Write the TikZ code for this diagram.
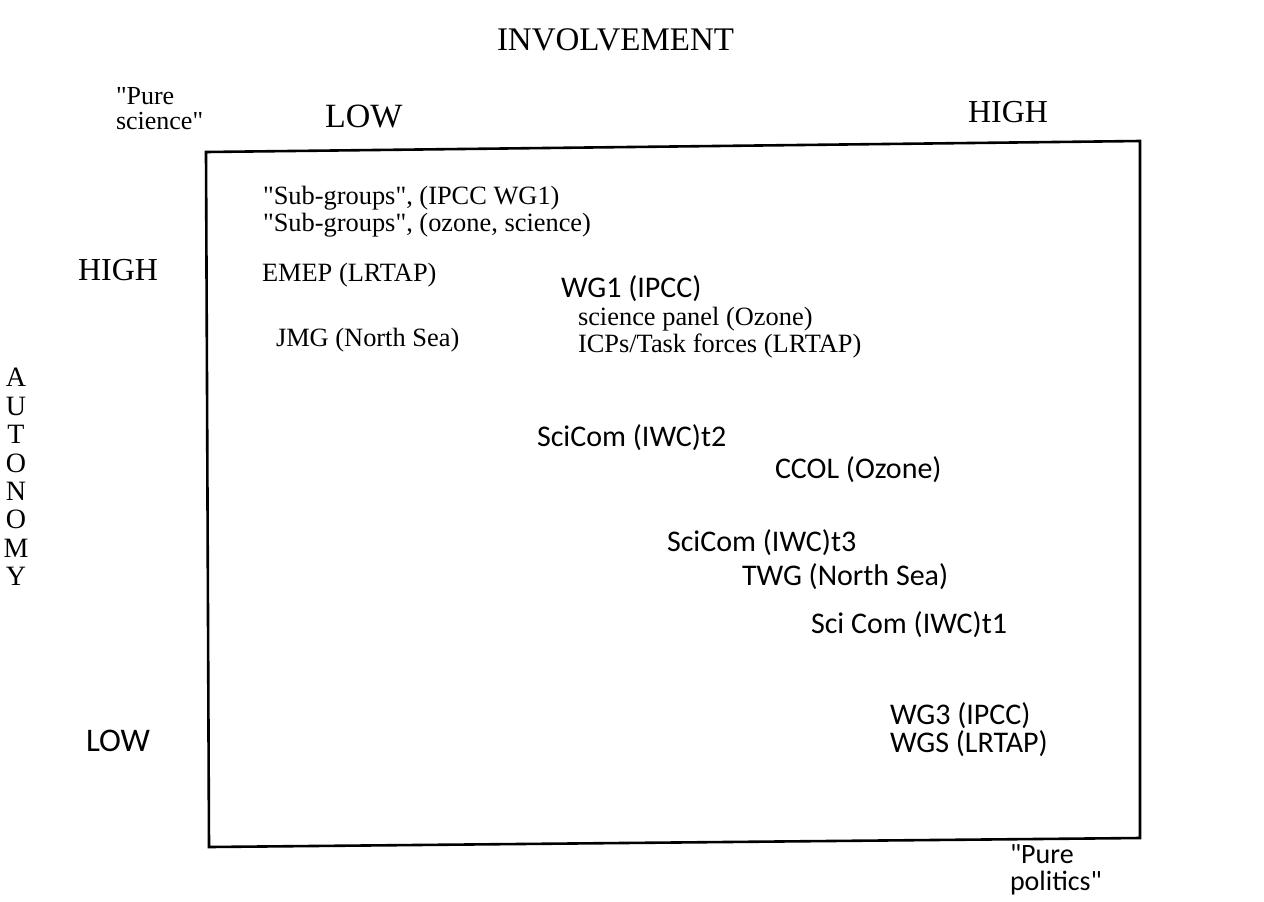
\documentclass[tikz,border=0pt]{standalone}
\usepackage{fontspec}
\setmainfont{Liberation Serif}
\newfontfamily\serf{Liberation Serif}
\newfontfamily\optfont{Carlito}
\begin{document}
\begin{tikzpicture}[x=0.5pt,y=-0.5pt,
  lbl/.style={anchor=base west, inner sep=0pt, outer sep=0pt},
  serl/.style={lbl, font=\serf\fontsize{13.2}{15}\selectfont},
  optl/.style={lbl, font=\optfont\fontsize{15}{17}\selectfont},
  axl/.style={lbl, font=\fontsize{16}{18}\selectfont}]
\useasboundingbox (0,0) rectangle (1264,901);
% frame
\coordinate (tl) at (206,152);
\coordinate (tr) at (1140,141);
\coordinate (br) at (1140,838);
\coordinate (bl) at (209,847);
\draw[line width=1.3pt, line join=miter] (tl) -- (tr) -- (br) -- (bl) -- cycle;
% axis titles
\node[axl, font=\fontsize{16.5}{18}\selectfont] (inv) at (497,50) {INVOLVEMENT};
\node[axl, font=\fontsize{17}{18}\selectfont] (lowt) at (325,127) {LOW};
\node[axl] (hight) at (968,122) {HIGH};
\node[axl] (highl) at (78,280) {HIGH};
\node[lbl, font=\optfont\fontsize{16.5}{18}\selectfont] (lowl) at (86,751) {LOW};
\node[lbl, font=\serf\fontsize{13}{12.5}\selectfont, align=left] (psci) at (116,129) {"Pure\\science"};
\node[lbl, font=\optfont\fontsize{14}{13.5}\selectfont, align=left] (ppol) at (1010,890) {"Pure\\politics"};
\node[anchor=north, inner sep=0pt, font=\fontsize{14}{14.2}\selectfont, align=center] (aut) at (16,368) {A\\U\\T\\O\\N\\O\\M\\Y};
% entries
\node[serl] (sg1) at (263,204) {"Sub-groups", (IPCC WG1)};
\node[serl] (sg2) at (263,231) {"Sub-groups", (ozone, science)};
\node[serl] (emep) at (262,281) {EMEP (LRTAP)};
\node[serl] (jmg) at (276,346) {JMG (North Sea)};
\node[optl] (wg1) at (561,297) {WG1 (IPCC)};
\node[serl] (sp) at (578,325) {science panel (Ozone)};
\node[serl] (icp) at (578,352) {ICPs/Task forces (LRTAP)};
\node[optl] (sc2) at (537,446) {SciCom (IWC)t2};
\node[optl] (ccol) at (775,478) {CCOL (Ozone)};
\node[optl] (sc3) at (667,551) {SciCom (IWC)t3};
\node[optl] (twg) at (742,585) {TWG (North Sea)};
\node[optl] (sc1) at (811,633) {Sci Com (IWC)t1};
\node[optl] (wg3) at (890,724) {WG3 (IPCC)};
\node[optl] (wgs) at (890,752) {WGS (LRTAP)};
\end{tikzpicture}
\end{document}
